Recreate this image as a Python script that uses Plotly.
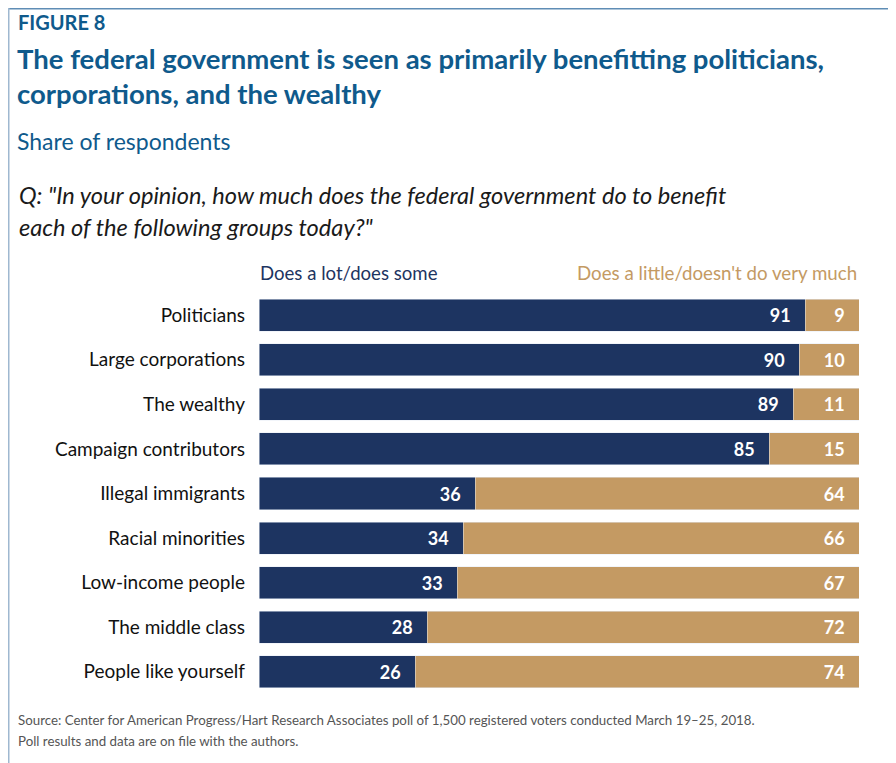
import plotly.graph_objects as go

categories = ["Politicians", "Large corporations", "The wealthy", "Campaign contributors",
              "Illegal immigrants", "Racial minorities", "Low-income people",
              "The middle class", "People like yourself"]
does_a_lot = [91, 90, 89, 85, 36, 34, 33, 28, 26]
does_little = [9, 10, 11, 15, 64, 66, 67, 72, 74]

# page body has an 8px margin; work in page pixel coordinates and shift
OFF = 8
W, H = 896 - OFF, 763 - OFF
L, R, T, B = 259 - OFF, 37, 293 - OFF, 69
PW, PH = W - L - R, H - T - B

def px(x):
    return (x - OFF - L) / PW

def py(y):
    return (H - B - (y - OFF)) / PH

NAVY = "#1d3461"
TAN = "#c49a63"
BLUE = "#0f5a8c"
FONT = "Lato"
PAD = "\u2002\u2009"

fig = go.Figure()
fig.add_trace(go.Bar(y=categories, x=does_a_lot, orientation="h", marker_color=NAVY,
                     texttemplate="%{x}" + PAD, textposition="inside", insidetextanchor="end",
                     textfont=dict(color="white", size=18, family=FONT, weight="bold"),
                     width=0.72, name="Does a lot/does some", hoverinfo="x+y"))
fig.add_trace(go.Bar(y=categories, x=does_little, orientation="h", marker_color=TAN,
                     texttemplate="%{x}" + PAD, textposition="inside", insidetextanchor="end",
                     textfont=dict(color="white", size=18, family=FONT, weight="bold"),
                     width=0.72, name="Does a little/doesn't do very much", hoverinfo="x+y"))

fig.update_layout(
    barmode="stack", width=W, height=H, showlegend=False,
    margin=dict(l=L, r=R, t=T, b=B),
    paper_bgcolor="white", plot_bgcolor="white",
    font=dict(family=FONT, color="#1a1a1a"),
    uniformtext=dict(mode=False),
    xaxis=dict(range=[0, 100], visible=False, fixedrange=True),
    yaxis=dict(autorange="reversed", showgrid=False, zeroline=False, showline=False,
               ticks="", tickfont=dict(size=19, family=FONT, color="#111111"),
               ticklabelstandoff=13, fixedrange=True),
)

def text(x, y, s, size, color, xanchor="left", weight="normal", style="normal"):
    fig.add_annotation(xref="paper", yref="paper", x=px(x), y=py(y), text=s,
                       showarrow=False, xanchor=xanchor, yanchor="middle",
                       font=dict(size=size, color=color, family=FONT, weight=weight, style=style))

text(16, 22, "FIGURE 8", 20, BLUE, weight="bold")
text(15, 59, "The federal government is seen as primarily benefitting politicians,", 27.5, BLUE, weight="bold")
text(15, 94, "corporations, and the wealthy", 27.5, BLUE, weight="bold")
text(15, 141, "Share of respondents", 23, BLUE)
text(17, 195, "Q: \"In your opinion, how much does the federal government do to benefit", 23.6, "#1a1a1a", style="italic")
text(17, 227, "each of the following groups today?\"", 23.6, "#1a1a1a", style="italic")
text(258, 273, "Does a lot/does some", 18.6, NAVY)
text(859, 273, "Does a little/doesn't do very much", 18.7, TAN, xanchor="right")
text(16, 720, "Source: Center for American Progress/Hart Research Associates poll of 1,500 registered voters conducted March 19\u201325, 2018.", 13.3, "#555555")
text(16, 741, "Poll results and data are on file with the authors.", 13.3, "#555555")

FRAME = "#5f8db5"
fig.add_shape(type="line", xref="paper", yref="paper", x0=px(OFF), x1=px(896), y0=py(OFF + 0.75), y1=py(OFF + 0.75),
              line=dict(color=FRAME, width=1.5))
fig.add_shape(type="line", xref="paper", yref="paper", x0=px(OFF + 0.75), x1=px(OFF + 0.75), y0=py(OFF), y1=py(763),
              line=dict(color="#9fb8d0", width=1.5))

fig.write_html("out.html")
